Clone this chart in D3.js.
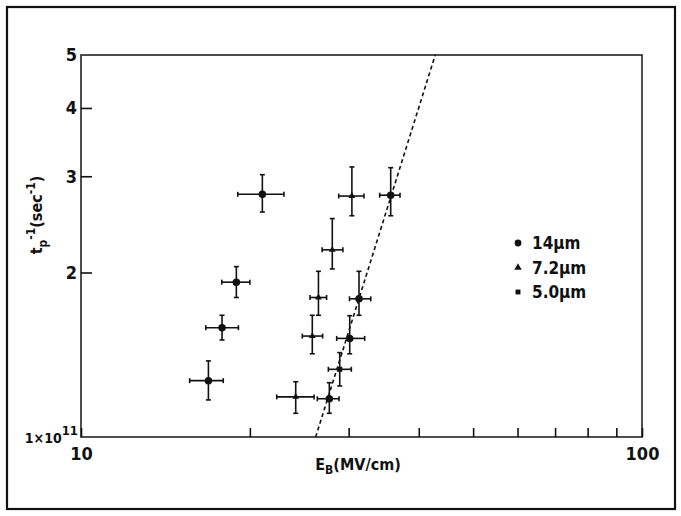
<!DOCTYPE html>
<meta charset="utf-8">
<style>
body { margin: 0; background: #fff; }
svg text { font-family: "Liberation Sans Narrow", "DejaVu Sans Condensed", "Liberation Sans", sans-serif; font-weight: bold; fill: #111; }
.axis path { display: none; }
.axis line { stroke: #111; stroke-width: 1.6px; }
.bars line { stroke: #111; stroke-width: 1.6px; }
</style>
<svg id="chart" width="681" height="516"></svg>
<script src="https://cdn.jsdelivr.net/npm/d3@7/dist/d3.min.js"></script>
<script>
// breakdown field (MV/cm) with horizontal error range
var eb   = [21.05, 30.4, 35.65, 28.05, 18.92, 26.5, 31.3, 17.84, 25.84, 30.13, 28.92, 16.87, 24.14, 27.71];
var ebLo = [19.03, 28.8, 34.07, 26.9, 17.82, 25.6, 30.1, 16.69, 24.8, 28.56, 27.6, 15.62, 22.33, 26.38];
var ebHi = [23.0, 31.95, 37.04, 29.3, 20.0, 27.4, 32.85, 19.08, 26.96, 32.04, 30.33, 17.93, 26.03, 28.84];
// rate t_p^-1 in units of 1e11 sec^-1
var rate   = [2.78, 2.76, 2.77, 2.20, 1.92, 1.80, 1.79, 1.585, 1.53, 1.515, 1.33, 1.268, 1.184, 1.175];
var rateLo = [2.58, 2.54, 2.54, 2.03, 1.80, 1.67, 1.67, 1.505, 1.42, 1.42, 1.24, 1.169, 1.105, 1.105];
var rateHi = [3.02, 3.12, 3.11, 2.51, 2.05, 2.01, 2.01, 1.67, 1.67, 1.667, 1.427, 1.378, 1.262, 1.257];
var thick  = ["14", "7.2", "14", "7.2", "14", "7.2", "14", "14", "7.2", "14", "5.0", "14", "7.2", "14"];

var series = ["14", "7.2", "5.0"];
var seriesLabel = ["14\u03bcm", "7.2\u03bcm", "5.0\u03bcm"];
var symbols = [d3.symbolCircle, d3.symbolTriangle, d3.symbolSquare];
var symbolSize = [44, 20, 26];

var fitX = [26.2, 42.8];
var fitY = [1, 5];

var xTicks = [10, 20, 30, 40, 50, 60, 70, 80, 90, 100];
var yTicks = [1, 2, 3, 4, 5];

var svg = d3.select("#chart");
var margin = {left: 81, top: 55, right: 642, bottom: 437};

var x = d3.scaleLog().domain([10, 100]).range([margin.left, margin.right]);
var y = d3.scaleLog().domain([1, 5]).range([margin.bottom, margin.top]);

// outer frame
svg.append("rect")
    .attr("x", 7).attr("y", 7).attr("width", 668).attr("height", 502)
    .attr("fill", "none").attr("stroke", "#111").attr("stroke-width", 2.2);

// plot box
svg.append("rect")
    .attr("x", margin.left).attr("y", margin.top)
    .attr("width", margin.right - margin.left).attr("height", margin.bottom - margin.top)
    .attr("fill", "none").attr("stroke", "#222").attr("stroke-width", 1.6);

var xAxis = svg.append("g")
    .attr("class", "axis")
    .attr("transform", "translate(0," + margin.bottom + ")")
    .call(d3.axisBottom(x).tickValues(xTicks).tickSize(-9).tickPadding(10)
      .tickFormat(function(d){ return (d == 10 || d == 100) ? d : ""; }));
xAxis.selectAll("text").attr("font-size", 18).attr("dy", "0.71em");

var yAxis = svg.append("g")
    .attr("class", "axis")
    .attr("transform", "translate(" + margin.left + ",0)")
    .call(d3.axisLeft(y).tickValues(yTicks).tickSize(-11).tickPadding(4)
      .tickFormat(function(d){ return d == 1 ? "" : d; }));
yAxis.selectAll("text").attr("font-size", 18);
yAxis.selectAll(".tick").filter(function(d){ return d == 1 || d == 5; }).select("line").remove();

// 1x10^11 label
var lab = svg.append("text")
    .attr("x", margin.left - 3).attr("y", margin.bottom + 6)
    .attr("text-anchor", "end").attr("font-size", 14);
lab.append("tspan").text("1\u00d710");
lab.append("tspan").attr("dy", -8).attr("font-size", 13).text("11");

// fit line
svg.append("line")
    .attr("x1", x(fitX[0])).attr("y1", y(fitY[0]))
    .attr("x2", x(fitX[1])).attr("y2", y(fitY[1]))
    .attr("stroke", "#111").attr("stroke-width", 1.6).attr("stroke-dasharray", "4,3");

// error bars
var cap = 2.5;
var bars = svg.append("g").attr("class", "bars")
  .selectAll("g").data(eb).enter().append("g");
bars.append("line")
    .attr("x1", function(d, i){ return x(ebLo[i]); }).attr("x2", function(d, i){ return x(ebHi[i]); })
    .attr("y1", function(d, i){ return y(rate[i]); }).attr("y2", function(d, i){ return y(rate[i]); });
bars.append("line")
    .attr("x1", function(d, i){ return x(eb[i]); }).attr("x2", function(d, i){ return x(eb[i]); })
    .attr("y1", function(d, i){ return y(rateLo[i]); }).attr("y2", function(d, i){ return y(rateHi[i]); });
bars.each(function(d, i) {
  var g = d3.select(this);
  [ebLo[i], ebHi[i]].forEach(function(v) {
    g.append("line").attr("x1", x(v)).attr("x2", x(v))
      .attr("y1", y(rate[i]) - cap).attr("y2", y(rate[i]) + cap);
  });
  [rateLo[i], rateHi[i]].forEach(function(v) {
    g.append("line").attr("x1", x(eb[i]) - cap).attr("x2", x(eb[i]) + cap)
      .attr("y1", y(v)).attr("y2", y(v));
  });
});

// markers
svg.append("g").selectAll("path").data(eb).enter().append("path")
    .attr("transform", function(d, i){ return "translate(" + x(eb[i]) + "," + y(rate[i]) + ")"; })
    .attr("d", function(d, i){
      var k = series.indexOf(thick[i]);
      return d3.symbol().type(symbols[k]).size(symbolSize[k])();
    })
    .attr("fill", "#111");

// legend
var leg = svg.append("g").selectAll("g").data(series).enter().append("g")
    .attr("transform", function(d, i){ return "translate(518," + (243 + i * 24.5) + ")"; });
leg.append("path")
    .attr("d", function(d, i){ return d3.symbol().type(symbols[i]).size(i == 0 ? 36 : 24)(); })
    .attr("fill", "#111");
leg.append("text")
    .attr("x", 14).attr("dy", "0.36em").attr("font-size", 17)
    .text(function(d, i){ return seriesLabel[i]; });

// axis titles
var xt = svg.append("text")
    .attr("x", 358).attr("y", 470).attr("text-anchor", "middle").attr("font-size", 16);
xt.append("tspan").text("E");
xt.append("tspan").attr("dy", 4).attr("font-size", 12).text("B");
xt.append("tspan").attr("dy", -4).text("(MV/cm)");

var yt = svg.append("text")
    .attr("transform", "translate(42,215) rotate(-90)")
    .attr("text-anchor", "middle").attr("font-size", 16);
yt.append("tspan").text("t");
yt.append("tspan").attr("dy", 5).attr("font-size", 12).text("p");
yt.append("tspan").attr("dy", -12).attr("font-size", 12).text("-1");
yt.append("tspan").attr("dy", 7).text("(sec");
yt.append("tspan").attr("dy", -7).attr("font-size", 12).text("-1");
yt.append("tspan").attr("dy", 7).text(")");
</script>
